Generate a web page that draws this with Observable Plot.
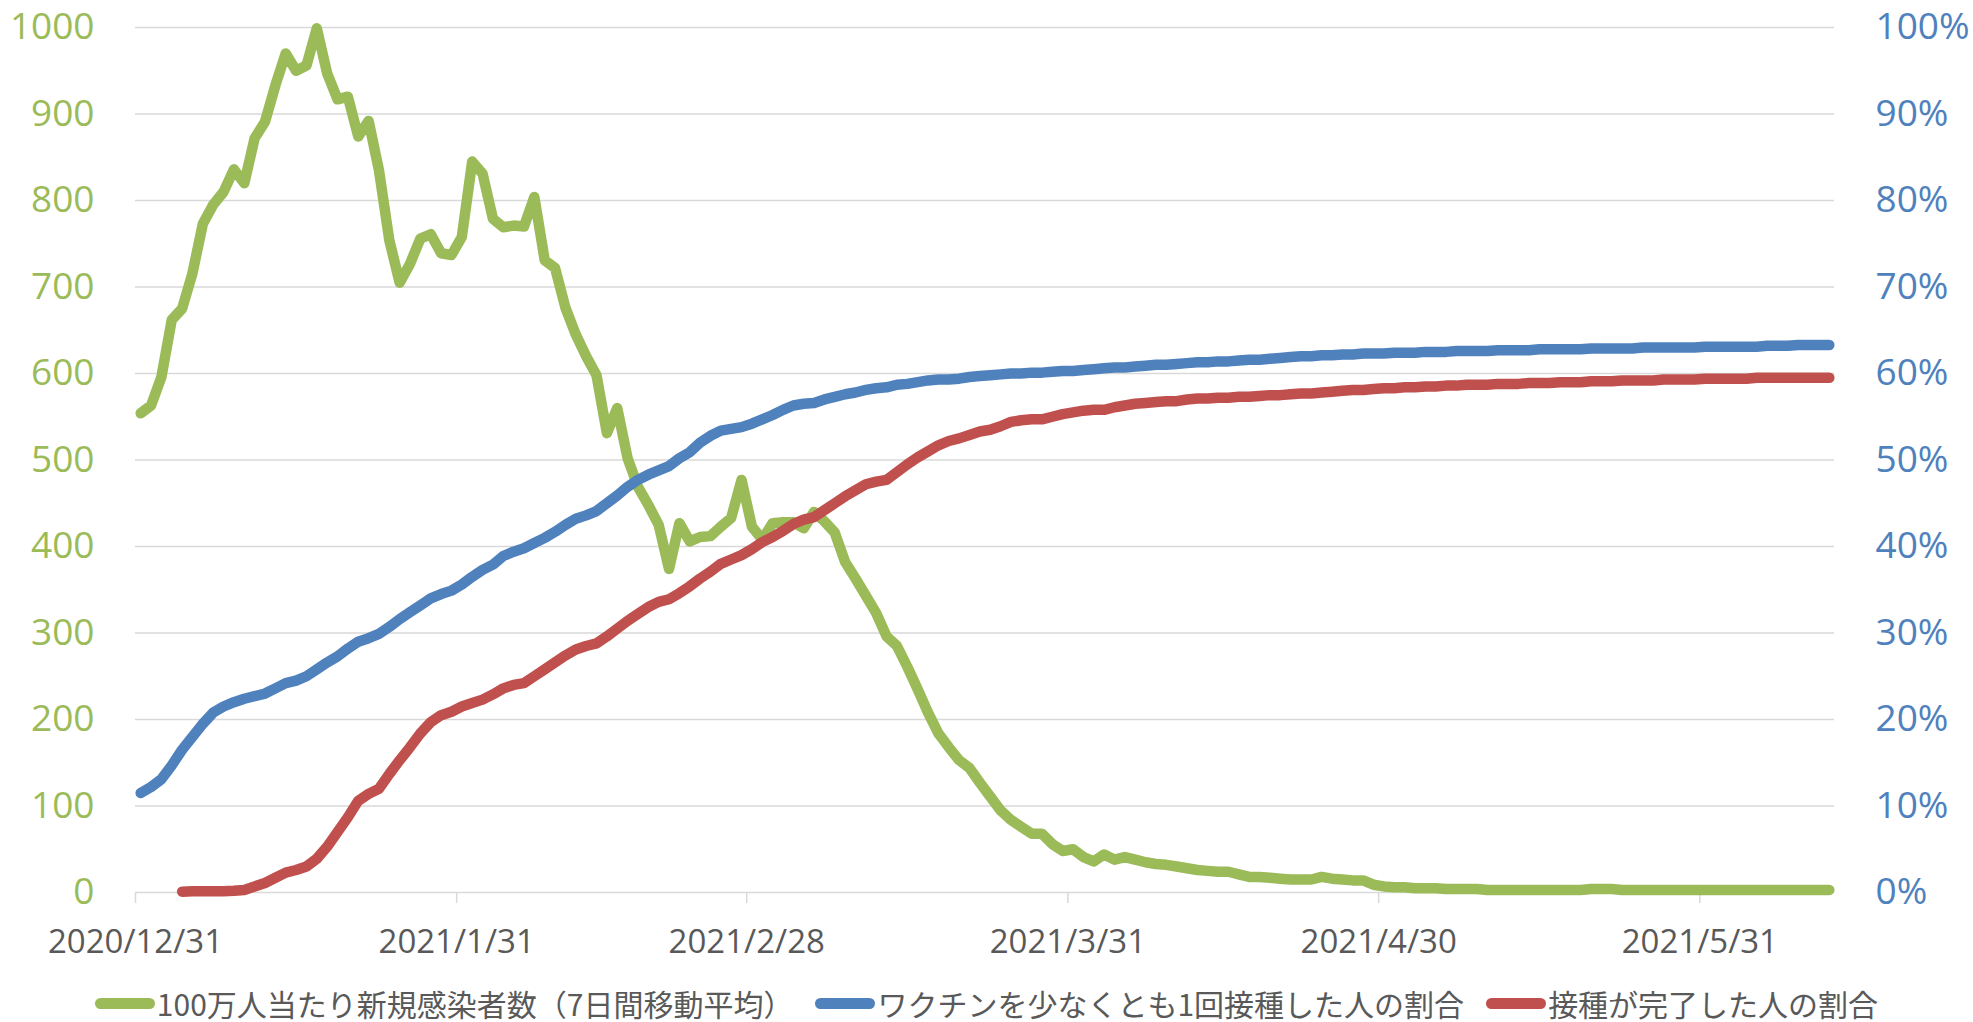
<!DOCTYPE html>
<html>
<head>
<meta charset="utf-8">
<script src="https://cdn.jsdelivr.net/npm/d3@7"></script>
<script src="https://cdn.jsdelivr.net/npm/@observablehq/plot@0.6"></script>
<style>
html, body { margin: 0; padding: 0; background: #fff; }
#chart svg { display: block; }
#legend {
  display: flex; justify-content: center; align-items: center;
  height: 40px; font-family: "Noto Sans CJK JP", sans-serif; font-size: 30px;
  color: #595959; white-space: nowrap;
}
.item { display: flex; align-items: center; margin: 0 11px; }
.sw { display: inline-block; width: 60px; height: 11px; border-radius: 6px; margin-right: 2px; }
</style>
</head>
<body>
<div id="chart"></div>
<div id="legend"></div>
<script>
// ---- data (daily, starting 2020/12/31) ----
const startDate = "2020-12-31";

// 100万人当たり新規感染者数（7日間移動平均）
const cases = [
  554,563,596,662,675,716,773,795,810,836,
  820,872,891,933,970,950,956,999,947,917,
  920,874,892,835,754,705,727,756,761,739,
  737,758,845,831,779,769,771,770,804,731,
  722,676,645,620,598,531,560,502,469,448,
  425,374,427,406,411,412,423,433,477,423,
  408,427,428,428,421,440,429,416,382,363,
  343,323,296,285,261,235,208,184,168,153,
  144,127,111,95,84,76,68,68,56,48,
  50,41,36,44,38,41,38,35,33,32,
  30,28,26,25,24,24,21,18,18,17,
  16,15,15,15,18,16,15,14,14,9,
  7,6,6,5,5,5,4,4,4,4,
  3,3,3,3,3,3,3,3,3,3,
  4,4,4,3,3,3,3,3,3,3,
  3,3,3,3,3,3,3,3,3,3,
  3,3,3,3
];

// ワクチンを少なくとも1回接種した人の割合 (%)
const firstDose = [
  11.5,12.2,13.1,14.7,16.5,18.0,19.5,20.8,21.5,22.0,
  22.4,22.7,23.0,23.6,24.2,24.5,25.0,25.8,26.6,27.3,
  28.2,29.0,29.4,29.9,30.7,31.6,32.4,33.2,34.0,34.5,
  34.9,35.6,36.5,37.3,37.9,38.9,39.4,39.8,40.4,41.0,
  41.7,42.5,43.2,43.6,44.1,45.0,45.9,46.9,47.7,48.3,
  48.8,49.3,50.2,50.9,52.0,52.8,53.4,53.6,53.8,54.2,
  54.7,55.2,55.8,56.3,56.5,56.6,57.0,57.3,57.6,57.8,
  58.1,58.3,58.4,58.7,58.8,59.0,59.2,59.3,59.3,59.4,
  59.6,59.7,59.8,59.9,60.0,60.0,60.1,60.1,60.2,60.3,
  60.3,60.4,60.5,60.6,60.7,60.7,60.8,60.9,61.0,61.0,
  61.1,61.2,61.3,61.3,61.4,61.4,61.5,61.6,61.6,61.7,
  61.8,61.9,62.0,62.0,62.1,62.1,62.2,62.2,62.3,62.3,
  62.3,62.4,62.4,62.4,62.5,62.5,62.5,62.6,62.6,62.6,
  62.6,62.7,62.7,62.7,62.7,62.8,62.8,62.8,62.8,62.8,
  62.9,62.9,62.9,62.9,62.9,63.0,63.0,63.0,63.0,63.0,
  63.0,63.1,63.1,63.1,63.1,63.1,63.1,63.2,63.2,63.2,
  63.3,63.3,63.3,63.3
];

// 接種が完了した人の割合 (%)
const fullyVaccinated = [
  null,null,null,null,0.1,0.15,0.15,0.15,0.15,0.2,
  0.3,0.7,1.1,1.7,2.3,2.6,3.0,3.9,5.3,7.0,
  8.7,10.6,11.4,12.0,13.7,15.3,16.8,18.4,19.7,20.5,
  20.9,21.5,21.9,22.3,22.9,23.6,24.0,24.2,25.0,25.8,
  26.6,27.4,28.1,28.5,28.8,29.6,30.5,31.4,32.2,33.0,
  33.6,33.9,34.6,35.4,36.3,37.1,38.0,38.5,39.0,39.7,
  40.5,41.1,41.8,42.6,43.1,43.4,44.2,45.0,45.8,46.5,
  47.2,47.5,47.7,48.6,49.5,50.3,51.0,51.7,52.2,52.5,
  52.9,53.3,53.5,53.9,54.4,54.6,54.7,54.7,55.0,55.3,
  55.5,55.7,55.8,55.8,56.1,56.3,56.5,56.6,56.7,56.8,
  56.8,57.0,57.1,57.1,57.2,57.2,57.3,57.3,57.4,57.5,
  57.5,57.6,57.7,57.7,57.8,57.9,58.0,58.1,58.1,58.2,
  58.3,58.3,58.4,58.4,58.5,58.5,58.6,58.6,58.7,58.7,
  58.7,58.8,58.8,58.8,58.9,58.9,58.9,59.0,59.0,59.0,
  59.1,59.1,59.1,59.2,59.2,59.2,59.2,59.3,59.3,59.3,
  59.3,59.4,59.4,59.4,59.4,59.4,59.5,59.5,59.5,59.5,
  59.5,59.5,59.5,59.5
];

const seriesNames = [
  "100万人当たり新規感染者数（7日間移動平均）",
  "ワクチンを少なくとも1回接種した人の割合",
  "接種が完了した人の割合"
];
const seriesColors = ["#9BBB59", "#4F81BD", "#C0504D"];

const xTicks = ["2020-12-31","2021-01-31","2021-02-28","2021-03-31","2021-04-30","2021-05-31"];
const xTickLabels = ["2020/12/31","2021/1/31","2021/2/28","2021/3/31","2021/4/30","2021/5/31"];
const xDomainEnd = "2021-06-13";
const leftTicks = [0,100,200,300,400,500,600,700,800,900,1000];
const rightTickLabels = ["0%","10%","20%","30%","40%","50%","60%","70%","80%","90%","100%"];

// ---- build table ----
const start = new Date(startDate + "T00:00:00Z");
const rows = cases.map((c, i) => ({
  date: d3.utcHour.offset(d3.utcDay.offset(start, i), 12),
  cases: c,
  first: firstDose[i],
  full: fullyVaccinated[i]
}));
const tickDates = xTicks.map(s => new Date(s + "T00:00:00Z"));

const chart = Plot.plot({
  width: 1973,
  height: 983,
  marginLeft: 135,
  marginRight: 139,
  marginTop: 27,
  marginBottom: 91,
  style: { fontFamily: "'Open Sans', sans-serif", background: "#fff" },
  x: { type: "utc", domain: [start, new Date(xDomainEnd + "T00:00:00Z")] },
  y: { domain: [0, 1000] },
  marks: [
    Plot.gridY(leftTicks, { stroke: "#D9D9D9", strokeOpacity: 1, strokeWidth: 1.5 }),
    Plot.axisY(leftTicks, {
      anchor: "left", tickSize: 0, tickPadding: 41, fill: "#9BBB59",
      fontSize: 37, label: null, tickFormat: d => String(d)
    }),
    Plot.axisY(leftTicks, {
      anchor: "right", tickSize: 0, tickPadding: 41, fill: "#4F81BD",
      fontSize: 37, label: null, tickFormat: d => rightTickLabels[leftTicks.indexOf(d)]
    }),
    Plot.axisX(tickDates, {
      anchor: "bottom", tickSize: 11, tickPadding: 26, stroke: "#D9D9D9", strokeWidth: 1.5,
      fill: "#595959", fontSize: 33, label: null,
      tickFormat: d => xTickLabels[tickDates.findIndex(t => +t === +d)]
    }),
    Plot.line(rows, {
      x: "date", y: "cases", stroke: seriesColors[0], strokeWidth: 10.5,
      strokeLinecap: "round", strokeLinejoin: "round"
    }),
    Plot.line(rows, {
      x: "date", y: d => d.first == null ? NaN : d.first * 10, stroke: seriesColors[1], strokeWidth: 10.5,
      strokeLinecap: "round", strokeLinejoin: "round"
    }),
    Plot.line(rows, {
      x: "date", y: d => d.full == null ? NaN : d.full * 10, stroke: seriesColors[2], strokeWidth: 10.5,
      strokeLinecap: "round", strokeLinejoin: "round"
    })
  ]
});
document.getElementById("chart").appendChild(chart);

// ---- legend ----
const legend = document.getElementById("legend");
seriesNames.forEach((name, i) => {
  const item = document.createElement("div");
  item.className = "item";
  const sw = document.createElement("span");
  sw.className = "sw";
  sw.style.background = seriesColors[i];
  const txt = document.createElement("span");
  txt.textContent = name;
  item.appendChild(sw);
  item.appendChild(txt);
  legend.appendChild(item);
});
</script>
</body>
</html>
